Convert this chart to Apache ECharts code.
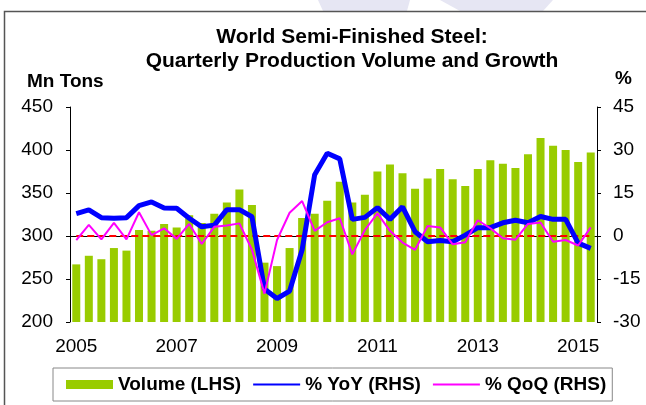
<!DOCTYPE html>
<html>
<head>
<meta charset="utf-8">
<script src="https://cdn.jsdelivr.net/npm/echarts@6/dist/echarts.min.js"></script>
<style>
  html, body { margin: 0; padding: 0; background: #fff; }
  #chart { width: 646px; height: 405px; }
</style>
</head>
<body>
<div id="chart"></div>
<script>
// quarters 2005Q1 .. 2015Q2
const quarters = [
  "2005Q1", "2005Q2", "2005Q3", "2005Q4", "2006Q1", "2006Q2", "2006Q3", "2006Q4",
  "2007Q1", "2007Q2", "2007Q3", "2007Q4", "2008Q1", "2008Q2", "2008Q3", "2008Q4",
  "2009Q1", "2009Q2", "2009Q3", "2009Q4", "2010Q1", "2010Q2", "2010Q3", "2010Q4",
  "2011Q1", "2011Q2", "2011Q3", "2011Q4", "2012Q1", "2012Q2", "2012Q3", "2012Q4",
  "2013Q1", "2013Q2", "2013Q3", "2013Q4", "2014Q1", "2014Q2", "2014Q3", "2014Q4",
  "2015Q1", "2015Q2"
];

// Mn tons (LHS)
const volume = [
  267, 277, 273, 286, 283, 307, 306, 314, 310, 324, 315, 326, 339, 354, 336, 269,
  265, 286, 321, 326, 341, 363, 339, 348, 375, 383, 373, 355, 367, 378, 366, 358,
  378, 388, 384, 379, 395, 414, 405, 400, 386, 397
];

// % YoY (RHS)
const yoy = [
  7.8, 9.1, 6.4, 6.2, 6.4, 10.6, 11.9, 9.8, 9.7, 6.2, 3.2, 3.8, 9.2, 9.2, 6.7, -18.5,
  -21.8, -19.2, -4.8, 21.4, 28.9, 26.9, 5.8, 6.5, 9.9, 5.8, 10.2, 1.5, -2.0, -1.6, -2.0, 0.3,
  2.9, 2.9, 4.6, 5.5, 4.6, 6.8, 5.8, 5.8, -2.5, -4.3
];

// % QoQ (RHS)
const qoq = [
  -1.4, 3.9, -1.2, 4.6, -1.2, 8.3, 0.3, 2.7, -1.0, 4.2, -2.8, 3.2, 3.7, 4.4, -4.8, -20.1,
  -1.4, 8.1, 12.2, 1.8, 4.8, 6.2, -6.4, 2.1, 7.9, 1.8, -2.3, -4.8, 3.5, 3.0, -2.9, -2.2,
  5.5, 2.7, -0.8, -1.3, 4.2, 4.7, -2.0, -1.4, -3.3, 3.0
];

const leftTicks = { min: 200, max: 450, interval: 50 };
const rightTicks = { min: -30, max: 45, interval: 15 };

const FONT = "'Liberation Sans', Arial, sans-serif";

const chart = echarts.init(document.getElementById("chart"));
const option = {
  animation: false,
  backgroundColor: "#fff",
  textStyle: { fontFamily: FONT },
  graphic: [
    // faint watermark above the frame
    { type: "polygon", z: -10, shape: { points: [[318, 0], [410, 0], [407, 11], [323, 11]] }, style: { fill: "#e6e6f3" } },
    { type: "polygon", z: -10, shape: { points: [[440, 0], [553, 0], [543, 11], [460, 11]] }, style: { fill: "#e6e6f3" } },
    // outer frame
    { type: "rect", z: -5, shape: { x: 4.5, y: 11.5, width: 700, height: 500 }, style: { fill: "none", stroke: "#555", lineWidth: 1.5 } },
    { type: "text", x: 352, y: 37, style: { text: "World Semi-Finished Steel:", font: "bold 21px " + FONT, fill: "#000", align: "center", verticalAlign: "middle" } },
    { type: "text", x: 352, y: 61, style: { text: "Quarterly Production Volume and Growth", font: "bold 21px " + FONT, fill: "#000", align: "center", verticalAlign: "middle" } },
    { type: "text", x: 27, y: 82, style: { text: "Mn Tons", font: "bold 19px " + FONT, fill: "#000", align: "left", verticalAlign: "middle" } },
    { type: "text", x: 615, y: 79, style: { text: "%", font: "bold 19px " + FONT, fill: "#000", align: "left", verticalAlign: "middle" } }
  ],
  legend: {
    left: 53,
    top: 368,
    padding: [7, 6, 7, 13],
    itemGap: 11,
    itemWidth: 47,
    itemHeight: 9,
    borderColor: "#888",
    borderWidth: 1,
    textStyle: { fontSize: 19, fontWeight: "bold", color: "#000", fontFamily: FONT },
    data: [
      { name: "Volume (LHS)", icon: "rect" },
      { name: "% YoY (RHS)", itemStyle: { opacity: 0 } },
      { name: "% QoQ (RHS)", itemStyle: { opacity: 0 } }
    ]
  },
  grid: { left: 70, right: 49, top: 107, height: 215 },
  xAxis: {
    type: "category",
    data: quarters,
    boundaryGap: true,
    axisLine: { lineStyle: { color: "#000", width: 1 } },
    axisTick: { alignWithLabel: false, interval: (i) => i % 4 === 0, length: 4, lineStyle: { color: "#000" } },
    axisLabel: {
      interval: (i) => i % 8 === 0,
      formatter: (v) => v.slice(0, 4),
      margin: 15,
      fontSize: 19,
      color: "#000",
      fontFamily: FONT
    },
    splitLine: { show: false }
  },
  yAxis: [
    {
      type: "value",
      min: leftTicks.min,
      max: leftTicks.max,
      interval: leftTicks.interval,
      axisLine: { show: true, lineStyle: { color: "#000" } },
      axisTick: { show: true, length: 4, lineStyle: { color: "#000" } },
      axisLabel: { margin: 17, fontSize: 19, color: "#000", fontFamily: FONT },
      splitLine: { show: false }
    },
    {
      type: "value",
      position: "right",
      min: rightTicks.min,
      max: rightTicks.max,
      interval: rightTicks.interval,
      axisLine: { show: true, lineStyle: { color: "#000" } },
      axisTick: { show: true, length: 4, lineStyle: { color: "#000" } },
      axisLabel: { margin: 16, fontSize: 19, color: "#000", fontFamily: FONT },
      splitLine: { show: false }
    }
  ],
  series: [
    {
      name: "Volume (LHS)",
      type: "bar",
      yAxisIndex: 0,
      barWidth: 8,
      itemStyle: { color: "#99cc00" },
      data: volume
    },
    {
      name: "zero",
      type: "line",
      yAxisIndex: 1,
      symbol: "none",
      silent: true,
      lineStyle: { color: "#ff0000", width: 2, type: [7, 4] },
      data: quarters.map(() => 0)
    },
    {
      name: "% YoY (RHS)",
      type: "line",
      yAxisIndex: 1,
      symbol: "none",
      itemStyle: { color: "#0000ff" },
      lineStyle: { color: "#0000ff", width: 5 },
      data: yoy
    },
    {
      name: "% QoQ (RHS)",
      type: "line",
      yAxisIndex: 1,
      symbol: "none",
      itemStyle: { color: "#ff00ff" },
      lineStyle: { color: "#ff00ff", width: 2 },
      data: qoq
    }
  ]
};
chart.setOption(option);
</script>
</body>
</html>
